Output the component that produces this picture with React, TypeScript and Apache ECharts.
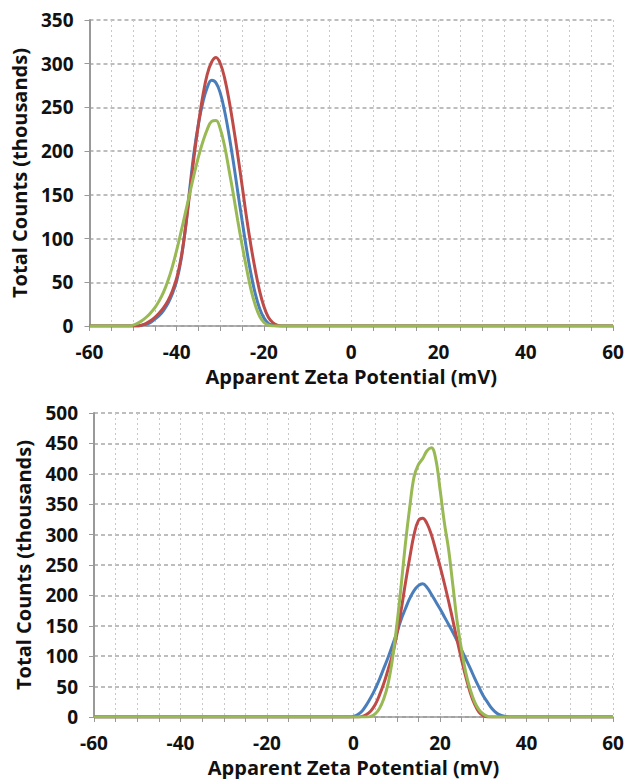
import React, { useEffect, useRef } from "react";
import * as echarts from "echarts";

// Top panel (negative zeta potential)
const topX = [-60, -52, -51, -50, -49, -48, -47, -46, -45, -44, -43, -42, -41, -40, -39, -38, -37, -36, -35, -34, -33, -32, -31, -30, -29, -28, -27, -26, -25, -24, -23, -22, -21, -20, -19, -18, -17, -16, -15, 60];
const topBlue = [0, 0, 0, 0, 0, 1, 2, 4, 8, 12, 18, 26, 37, 52, 76, 112, 158, 200, 232, 256, 273, 281, 278, 266, 245, 218, 187, 153, 120, 88, 60, 37, 20, 9, 3, 1, 0, 0, 0, 0];
const topRed = [0, 0, 0, 0, 0, 1, 3, 6, 10, 15, 21, 29, 40, 55, 78, 112, 153, 195, 232, 264, 288, 302, 307, 300, 283, 258, 228, 195, 160, 124, 92, 64, 40, 22, 10, 4, 1, 0, 0, 0];
const topGreen = [0, 0, 0, 1, 3, 6, 10, 15, 21, 29, 39, 52, 68, 87, 108, 130, 152, 174, 194, 211, 225, 234, 235, 225, 205, 178, 150, 120, 92, 66, 42, 24, 11, 4, 1, 0, 0, 0, 0, 0];

// Bottom panel (positive zeta potential)
const botX = [-60, -2, -1, 0, 1, 2, 3, 4, 5, 6, 7, 8, 9, 10, 11, 12, 13, 14, 15, 16, 17, 18, 19, 20, 21, 22, 23, 24, 25, 26, 27, 28, 29, 30, 31, 32, 33, 34, 35, 36, 37, 60];
const botBlue = [0, 0, 0, 1, 4, 10, 20, 32, 46, 62, 80, 98, 118, 138, 160, 178, 195, 208, 216, 219, 213, 202, 190, 178, 165, 152, 139, 125, 110, 95, 80, 64, 49, 35, 24, 14, 7, 3, 1, 0, 0, 0];
const botRed = [0, 0, 0, 0, 0, 1, 4, 10, 20, 36, 55, 78, 102, 135, 175, 220, 262, 300, 323, 327, 318, 300, 275, 248, 220, 190, 158, 125, 94, 65, 40, 21, 8, 2, 0, 0, 0, 0, 0, 0, 0, 0];
const botGreen = [0, 0, 0, 0, 0, 0, 0, 1, 5, 14, 30, 55, 95, 150, 215, 285, 345, 395, 415, 425, 438, 443, 425, 375, 320, 275, 215, 155, 110, 72, 45, 25, 12, 5, 1, 0, 0, 0, 0, 0, 0, 0];

const xTitle = "Apparent Zeta Potential (mV)";
const yTitle = "Total Counts (thousands)";
const topYMax = 350;
const botYMax = 500;

const BLUE = "#4a7ebb";
const RED = "#be4b48";
const GREEN = "#98b954";

export default function App() {
  const ref = useRef<HTMLDivElement>(null);
  useEffect(() => {
    const chart = echarts.init(ref.current!, null, { renderer: "svg" });
    const fontFamily = "'Open Sans', sans-serif";
    const labelStyle = { fontFamily, fontWeight: "bold" as const, fontSize: 19, color: "#111" };
    const titleStyle = { fontFamily, fontWeight: "bold" as const, fontSize: 20, lineHeight: 22, color: "#111" };

    const mkX = (gi: number) => ({
      type: "value",
      gridIndex: gi,
      min: -60,
      max: 60,
      interval: 5,
      name: xTitle,
      nameLocation: "middle",
      nameGap: 39,
      nameTextStyle: { ...titleStyle },
      axisLine: { onZero: false, lineStyle: { color: "#999", width: 1.5 } },
      axisTick: { show: true, length: 5, lineStyle: { color: "#999", width: 1 } },
      axisLabel: {
        ...labelStyle,
        margin: 16,
        formatter: (v: number) => (v % 20 === 0 ? String(v) : ""),
      },
      splitLine: { show: true, lineStyle: { color: "#c8c8c8", width: 1, type: [2, 3] } },
    });

    const mkY = (gi: number, max: number) => ({
      type: "value",
      gridIndex: gi,
      min: 0,
      max,
      interval: 50,
      name: yTitle,
      nameLocation: "middle",
      nameGap: 50,
      nameTextStyle: { ...titleStyle },
      axisLine: { show: true, onZero: false, lineStyle: { color: "#999", width: 2 } },
      axisTick: { show: true, length: 5, lineStyle: { color: "#999", width: 1 } },
      axisLabel: { ...labelStyle, margin: 16 },
      splitLine: { show: true, lineStyle: { color: "#a8a8a8", width: 1.5, type: [4, 3] } },
    });

    const mkSeries = (gi: number, xs: number[], ys: number[], color: string) => ({
      type: "line",
      xAxisIndex: gi,
      yAxisIndex: gi,
      data: xs.map((x, i) => [x, ys[i]]),
      showSymbol: false,
      smooth: 0.4,
      lineStyle: { color, width: 3 },
      itemStyle: { color },
    });

    chart.setOption({
      animation: false,
      backgroundColor: "#fff",
      grid: [
        { left: 88, right: 15, top: 20, height: 306 },
        { left: 94, right: 15, top: 413, height: 304 },
      ],
      xAxis: [mkX(0), mkX(1)],
      yAxis: [mkY(0, topYMax), mkY(1, botYMax)],
      series: [
        mkSeries(0, topX, topBlue, BLUE),
        mkSeries(0, topX, topRed, RED),
        mkSeries(0, topX, topGreen, GREEN),
        mkSeries(1, botX, botBlue, BLUE),
        mkSeries(1, botX, botRed, RED),
        mkSeries(1, botX, botGreen, GREEN),
      ],
    });
    return () => chart.dispose();
  }, []);
  return (
    <div
      ref={ref}
      style={{ position: "absolute", left: 0, top: 0, width: 628, height: 779 }}
    />
  );
}
